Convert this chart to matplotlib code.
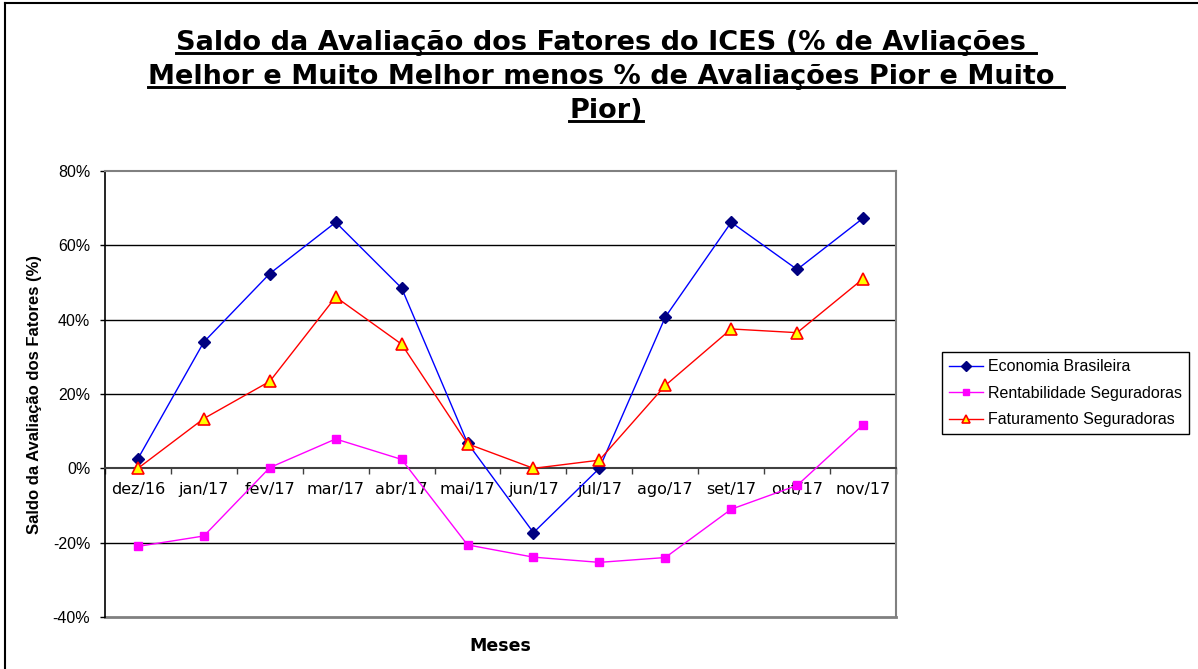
import matplotlib
matplotlib.use("Agg")
import matplotlib.pyplot as plt
from matplotlib.lines import Line2D
import numpy as np

# data (values in %)
months = ['dez/16', 'jan/17', 'fev/17', 'mar/17', 'abr/17', 'mai/17',
          'jun/17', 'jul/17', 'ago/17', 'set/17', 'out/17', 'nov/17']
economia = [2.6, 34.0, 52.4, 66.2, 48.5, 6.8, -17.3, 0.0, 40.7, 66.2, 53.5, 67.3]
rentabilidade = [-21.0, -18.2, 0.2, 7.9, 2.4, -20.6, -23.9, -25.3, -24.0, -11.0, -4.6, 11.7]
faturamento = [0.0, 13.4, 23.4, 46.1, 33.4, 6.6, 0.0, 2.2, 22.3, 37.5, 36.5, 51.0]
yticks = [-40, -20, 0, 20, 40, 60, 80]

title_lines = ['Saldo da Avaliação dos Fatores do ICES (% de Avliações ',
               'Melhor e Muito Melhor menos % de Avaliações Pior e Muito ',
               'Pior)']

W, H = 1198, 669
fig = plt.figure(figsize=(W / 100, H / 100), dpi=100)
ax = fig.add_axes([105 / W, 1 - 617 / H, (896 - 105) / W, (617 - 171) / H])

x = np.arange(len(months))
ax.plot(x, economia, color='#0000FF', lw=1, marker='D', ms=6,
        mfc='#000080', mec='#000080', label='Economia Brasileira', zorder=4)
ax.plot(x, rentabilidade, color='#FF00FF', lw=1, marker='s', ms=6,
        mfc='#FF00FF', mec='#FF00FF', label='Rentabilidade Seguradoras', zorder=4)
ax.plot(x, faturamento, color='#FF0000', lw=1, marker='^', ms=8,
        mfc='#FFFF00', mec='#FF0000', mew=1.2, label='Faturamento Seguradoras', zorder=4)

ax.set_xlim(-0.5, len(months) - 0.5)
ax.set_ylim(-40, 80)

# gridlines
for v in (60, 40, 20, -20):
    ax.axhline(v, color='black', lw=1, zorder=1)
ax.axhline(-40, color='#808080', lw=2, zorder=1, clip_on=False)

for s in ('top', 'right'):
    ax.spines[s].set_color('#808080')
    ax.spines[s].set_linewidth(1.5)
ax.spines['left'].set_color('black')
ax.spines['left'].set_linewidth(1.2)
ax.spines['bottom'].set_position(('data', 0))
ax.spines['bottom'].set_color('#404040')
ax.spines['bottom'].set_linewidth(1.5)

ax.set_yticks(yticks)
ax.set_yticklabels([f'{v}%' for v in yticks])
for t in ax.get_yticklabels():
    t.set_fontfamily('Liberation Sans')
ax.tick_params(axis='y', direction='out', length=3.6, width=1, pad=7,
               labelsize=11.5, colors='black')

ax.set_xticks(np.arange(-0.5, len(months), 1))
ax.set_xticklabels([])
ax.set_xticks(x, minor=True)
ax.set_xticklabels(months, minor=True)
ax.tick_params(axis='x', which='major', direction='out', length=4.3,
               width=1, color='#404040')
ax.tick_params(axis='x', which='minor', length=0, pad=10, labelsize=11.5)

fig.text(35 / W, 1 - 394 / H, 'Saldo da Avaliação dos Fatores (%)', rotation=90,
         ha='center', va='center', fontweight='bold', fontsize=12,
         family='Liberation Sans')
fig.text(500 / W, 1 - 646 / H, 'Meses', ha='center', va='center',
         fontweight='bold', fontsize=12.5)

# title, fitted to the reference width and underlined by hand
renderer = fig.canvas.get_renderer()
probe = fig.text(0, 0, title_lines[1], fontsize=20, fontweight='bold')
scale = 915 / probe.get_window_extent(renderer).width
probe.remove()
tsize = 20 * scale
baselines = [49.5, 83.5, 117.5]
for line, yb in zip(title_lines, baselines):
    t = fig.text(606 / W, 1 - yb / H, line, ha='center', va='baseline',
                 fontsize=tsize, fontweight='bold')
    bb = t.get_window_extent(renderer)
    yu = 1 - (yb + 3.5) / H
    fig.add_artist(Line2D([bb.x0 / W, bb.x1 / W], [yu, yu], color='black',
                          lw=2.1, transform=fig.transFigure))

leg = fig.legend(loc='upper left', bbox_to_anchor=(942 / W, 1 - 352 / H),
                 prop={'family': 'Liberation Sans', 'size': 11.5},
                 fancybox=False, edgecolor='black', framealpha=1,
                 borderaxespad=0, handlelength=2.1, handletextpad=0.3,
                 labelspacing=0.72, borderpad=0.45, markerscale=0.8)
leg.get_frame().set_linewidth(1)

# outer chart frame (cut off at right and bottom)
fig.add_artist(Line2D([5 / W, 5 / W], [0, 1 - 3 / H], color='black', lw=1.5,
                      transform=fig.transFigure))
fig.add_artist(Line2D([5 / W, 1], [1 - 3 / H, 1 - 3 / H], color='black', lw=1.5,
                      transform=fig.transFigure))

fig.savefig('out.png', dpi=100)
